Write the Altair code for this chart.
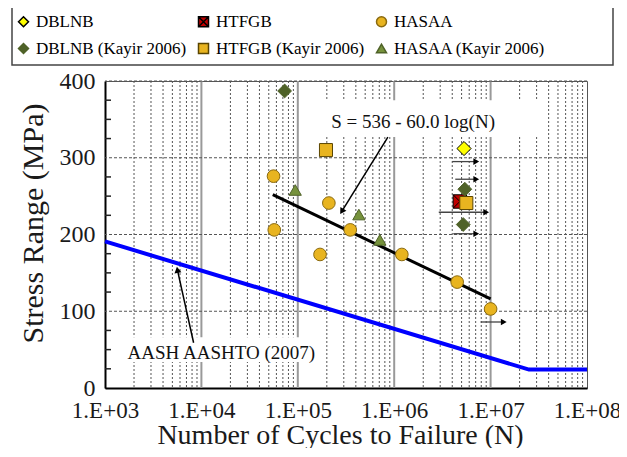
import altair as alt
import pandas as pd

FONT = "Liberation Serif"
W, H = 482, 307

# ---------------- data ----------------
# legend fills column by column: (DBLNB, DBLNB Kayir), (HTFGB, HTFGB Kayir), (HASAA, HASAA Kayir)
series = ["DBLNB", "DBLNB (Kayir 2006)", "HTFGB", "HTFGB (Kayir 2006)",
          "HASAA", "HASAA (Kayir 2006)"]

pts_series = (["DBLNB"] + ["HTFGB"] + ["HASAA"] * 8 + ["DBLNB (Kayir 2006)"] * 3
              + ["HTFGB (Kayir 2006)"] * 2 + ["HASAA (Kayir 2006)"] * 3)
pts_N = ([5.3e6] + [4.8e6]
         + [5.6e4, 5.7e4, 2.1e5, 1.7e5, 3.5e5, 1.2e6, 4.5e6, 1.0e7]
         + [7.3e4, 5.4e6, 5.2e6]
         + [1.96e5, 5.6e6]
         + [9.4e4, 4.3e5, 7.1e5])
pts_S = ([312] + [243]
         + [276, 206, 241, 174, 206, 174, 138, 103]
         + [387, 259, 213]
         + [310, 241]
         + [258, 226, 193])

# run-out arrows
run_S = [295, 272, 229, 201, 86]
run_N1 = [4.0e6, 4.3e6, 2.9e6, 4.1e6, 7.9e6]
run_N2 = [7.1e6, 7.1e6, 9.0e6, 7.1e6, 1.37e7]

# regression line  S = 536 - 60.0 log(N)
fit_N = [5.5e4, 1.0e7]
fit_S = [252, 116]

# AASHTO (2007) curve
aashto_N = [1.0e3, 2.5e7, 1.0e8]
aashto_S = [191, 24, 24]

# grid / tick positions
x_major = [1e3, 1e4, 1e5, 1e6, 1e7, 1e8]
x_inner_major = [1e4, 1e5, 1e6, 1e7]
x_minor = [k * 10 ** d for d in range(3, 8) for k in range(2, 10)]
y_major = [0, 100, 200, 300, 400]
y_grid = [100, 200, 300, 400]
y_minor = [25, 50, 75, 125, 150, 175, 225, 250, 275, 325, 350, 375]

# annotations
eq_text = ["S = 536 - 60.0 log(N)"]
eq_pos_N, eq_pos_S = [1.57e6], [346]
eq_box_N, eq_box_N2, eq_box_S, eq_box_S2 = [1.95e5], [3.3e7], [375], [327]
eq_arrow_N, eq_arrow_S = [8.6e5, 2.86e5], [327, 230]

aa_text = ["AASH AASHTO (2007)"]
aa_pos_N, aa_pos_S = [1.61e4], [45.6]
aa_box_N, aa_box_N2, aa_box_S, aa_box_S2 = [1.5e3], [1.77e5], [66], [34]
aa_arrow_N, aa_arrow_S = [8.3e3, 5.64e3], [59, 154]

# ---------------- styles (aligned with `series`) ----------------
SQX = "M-1,-1H1V1H-1ZM-1,-1L1,1M1,-1L-1,1"
shapes = ["diamond", "diamond", SQX, "square", "circle", "triangle-up"]
fills = ["#FFFF00", "#4F6228", "#C00000", "#E8B420", "#E8B420", "#76923C"]
strokes = ["#000000", "#4F6228", "#000000", "#5A4500", "#8A6A10", "#4F6228"]
sizes = [190, 110, 170, 190, 200, 150]

xscale = alt.Scale(type="log", domain=[1e3, 1e8], nice=False)
yscale = alt.Scale(domain=[0, 400], nice=False)

xaxis = alt.Axis(values=x_major,
                 labelExpr="'1.E+0' + round(log(datum.value)/LN10)",
                 grid=False, ticks=False, domainColor="black", domainWidth=2,
                 labelFont=FONT, labelFontSize=23, labelColor="#1a1a1a",
                 labelPadding=11, labelFlush=False, labelOverlap=False,
                 title="Number of Cycles to Failure (N)", titleFont=FONT,
                 titleFontSize=28, titleFontWeight="normal", titleColor="#1a1a1a",
                 titleX=235, titleY=47, titleBaseline="middle")
yaxis = alt.Axis(values=y_major, grid=False, ticks=False,
                 domainColor="black", domainWidth=2,
                 labelFont=FONT, labelFontSize=24, labelColor="#1a1a1a",
                 labelPadding=10,
                 title="Stress Range (MPa)", titleFont=FONT, titleFontSize=30,
                 titleFontWeight="normal", titleColor="#1a1a1a",
                 titleX=-72, titleY=142, titleBaseline="middle")


def X(f="N"):
    return alt.X(f"{f}:Q", scale=xscale, axis=xaxis)


def Y(f="S"):
    return alt.Y(f"{f}:Q", scale=yscale, axis=yaxis)


def LEG():
    return alt.Legend(title=None, orient="none", legendX=-90, legendY=-68, columns=3,
                      columnPadding=8, rowPadding=9, labelFont=FONT, labelFontSize=17,
                      labelColor="black", symbolSize=100, labelOffset=4, padding=0,
                      labelLimit=300)


one = pd.DataFrame({"a": [0]})

# legend frame
legend_box = alt.Chart(one).mark_rect(fillOpacity=0, stroke="#444", strokeWidth=1.5).encode(
    x=alt.value(-93), x2=alt.value(508), y=alt.value(-74), y2=alt.value(-16))

grid_minor = alt.Chart(pd.DataFrame({"N": x_minor})).mark_rule(
    color="#555", strokeWidth=1, strokeDash=[2, 2]).encode(x=X())
grid_major = alt.Chart(pd.DataFrame({"N": x_inner_major})).mark_rule(
    color="#999", strokeWidth=2).encode(x=X())
grid_h = alt.Chart(pd.DataFrame({"S": y_grid})).mark_rule(
    color="#555", strokeWidth=1, strokeDash=[3, 2]).encode(y=Y())

eq_box = alt.Chart(pd.DataFrame({"N": eq_box_N, "N2": eq_box_N2, "S": eq_box_S, "S2": eq_box_S2})
                   ).mark_rect(fill="white").encode(x=X(), x2="N2:Q", y=Y(), y2="S2:Q")
aa_box = alt.Chart(pd.DataFrame({"N": aa_box_N, "N2": aa_box_N2, "S": aa_box_S, "S2": aa_box_S2})
                   ).mark_rect(fill="white").encode(x=X(), x2="N2:Q", y=Y(), y2="S2:Q")

yticks = alt.Chart(pd.DataFrame({"S": y_minor})).mark_rule(color="#222", strokeWidth=1.5).encode(
    y=Y(), x=alt.value(0), x2=alt.value(6))

aashto = alt.Chart(pd.DataFrame({"N": aashto_N, "S": aashto_S})).mark_line(
    color="#0000FF", strokeWidth=4).encode(x=X(), y=Y())
fit = alt.Chart(pd.DataFrame({"N": fit_N, "S": fit_S})).mark_line(
    color="black", strokeWidth=3).encode(x=X(), y=Y())

run_df = pd.DataFrame({"N": run_N1, "N2": run_N2, "S": run_S})
run_lines = alt.Chart(run_df).mark_rule(color="#444", strokeWidth=1.3).encode(
    x=X(), x2="N2:Q", y=Y())
run_heads = alt.Chart(run_df).mark_point(shape="triangle-right", filled=True, color="black",
                                         size=45, opacity=1).encode(x=X("N2"), y=Y())

pts_df = pd.DataFrame({"series": pts_series, "N": pts_N, "S": pts_S})
points = alt.Chart(pts_df).mark_point(filled=True, opacity=1, strokeWidth=1).encode(
    x=X(), y=Y(),
    shape=alt.Shape("series:N", scale=alt.Scale(domain=series, range=shapes), legend=LEG()),
    fill=alt.Fill("series:N", scale=alt.Scale(domain=series, range=fills), legend=LEG()),
    stroke=alt.Stroke("series:N", scale=alt.Scale(domain=series, range=strokes), legend=LEG()),
    # reversed domain so that this (hidden) size legend is not merged with the visible one
    size=alt.Size("series:N", scale=alt.Scale(domain=series[::-1], range=sizes[::-1]), legend=None),
)

eq_label = alt.Chart(pd.DataFrame({"N": eq_pos_N, "S": eq_pos_S, "t": eq_text})).mark_text(
    font=FONT, fontSize=19, color="#111").encode(x=X(), y=Y(), text="t:N")
aa_label = alt.Chart(pd.DataFrame({"N": aa_pos_N, "S": aa_pos_S, "t": aa_text})).mark_text(
    font=FONT, fontSize=19, color="#111").encode(x=X(), y=Y(), text="t:N")

eq_arrow_df = pd.DataFrame({"N": eq_arrow_N, "S": eq_arrow_S})
eq_arrow = alt.Chart(eq_arrow_df).mark_line(color="black", strokeWidth=1.5).encode(x=X(), y=Y())
eq_head = alt.Chart(eq_arrow_df.iloc[[1]]).mark_point(shape="triangle-up", filled=True, color="black",
                                                      size=50, opacity=1, angle=212).encode(x=X(), y=Y())
aa_arrow_df = pd.DataFrame({"N": aa_arrow_N, "S": aa_arrow_S})
aa_arrow = alt.Chart(aa_arrow_df).mark_line(color="black", strokeWidth=1.5).encode(x=X(), y=Y())
aa_head = alt.Chart(aa_arrow_df.iloc[[1]]).mark_point(shape="triangle-up", filled=True, color="black",
                                                      size=50, opacity=1, angle=350).encode(x=X(), y=Y())

chart = alt.layer(
    legend_box, grid_minor, grid_major, grid_h, eq_box, aa_box, yticks,
    aashto, fit, run_lines, run_heads, points,
    eq_arrow, eq_head, aa_arrow, aa_head, eq_label, aa_label,
).properties(
    width=W, height=H,
    autosize=alt.AutoSizeParams(type="none"),
    padding={"left": 97, "top": 73, "right": 32, "bottom": 60},
).configure(
    font=FONT,
    style={"guide-label": {"font": FONT, "fontSize": 17}},
).configure_view(
    stroke="#555", strokeWidth=1
).configure_legend(
    labelFont=FONT, labelFontSize=17, labelColor="black", symbolSize=100,
    labelOffset=4, columnPadding=8, rowPadding=9, padding=0, labelLimit=300,
)

chart.save("out.html", embed_options={"renderer": "svg", "actions": False})
